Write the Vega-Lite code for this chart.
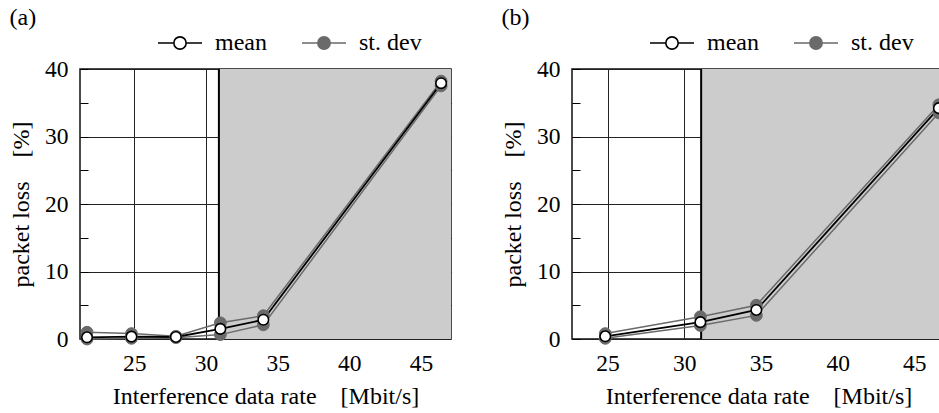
{
  "$schema": "https://vega.github.io/schema/vega-lite/v6.json",
  "padding": {"left": 8, "top": 5, "right": 0, "bottom": 0},
  "background": "white",
  "config": {
    "font": "Liberation Serif, Times New Roman, Times, serif",
    "view": {"stroke": "#111", "strokeWidth": 1.5},
    "axis": {"labelFont": "Liberation Serif, Times New Roman, Times, serif", "titleFont": "Liberation Serif, Times New Roman, Times, serif", "labelColor": "#000", "titleColor": "#000", "labelFontSize": 23.5, "titleFontSize": 24, "titleFontWeight": "normal"},
    "legend": {"labelFont": "Liberation Serif, Times New Roman, Times, serif"},
    "title": {"font": "Liberation Serif, Times New Roman, Times, serif", "fontSize": 24, "fontWeight": "normal", "color": "#000", "anchor": "start"}
  },
  "datasets": {
    "a": [
      {"x": 21.7, "y": 1.0, "line": "hi", "kind": "st. dev"},
      {"x": 24.8, "y": 0.8, "line": "hi", "kind": "st. dev"},
      {"x": 27.9, "y": 0.4, "line": "hi", "kind": "st. dev"},
      {"x": 31.0, "y": 2.4, "line": "hi", "kind": "st. dev"},
      {"x": 34.0, "y": 3.45, "line": "hi", "kind": "st. dev"},
      {"x": 46.4, "y": 38.2, "line": "hi", "kind": "st. dev"},
      {"x": 21.7, "y": 0.0, "line": "lo", "kind": "st. dev"},
      {"x": 24.8, "y": 0.1, "line": "lo", "kind": "st. dev"},
      {"x": 27.9, "y": 0.2, "line": "lo", "kind": "st. dev"},
      {"x": 31.0, "y": 0.65, "line": "lo", "kind": "st. dev"},
      {"x": 34.0, "y": 2.1, "line": "lo", "kind": "st. dev"},
      {"x": 46.4, "y": 37.5, "line": "lo", "kind": "st. dev"},
      {"x": 21.7, "y": 0.25, "line": "mean", "kind": "mean"},
      {"x": 24.8, "y": 0.35, "line": "mean", "kind": "mean"},
      {"x": 27.9, "y": 0.3, "line": "mean", "kind": "mean"},
      {"x": 31.0, "y": 1.5, "line": "mean", "kind": "mean"},
      {"x": 34.0, "y": 2.85, "line": "mean", "kind": "mean"},
      {"x": 46.4, "y": 37.9, "line": "mean", "kind": "mean"}
    ],
    "b": [
      {"x": 24.85, "y": 0.8, "line": "hi", "kind": "st. dev"},
      {"x": 31.05, "y": 3.3, "line": "hi", "kind": "st. dev"},
      {"x": 34.7, "y": 5.0, "line": "hi", "kind": "st. dev"},
      {"x": 46.6, "y": 34.7, "line": "hi", "kind": "st. dev"},
      {"x": 24.85, "y": 0.1, "line": "lo", "kind": "st. dev"},
      {"x": 31.05, "y": 2.0, "line": "lo", "kind": "st. dev"},
      {"x": 34.7, "y": 3.5, "line": "lo", "kind": "st. dev"},
      {"x": 46.6, "y": 33.5, "line": "lo", "kind": "st. dev"},
      {"x": 24.85, "y": 0.4, "line": "mean", "kind": "mean"},
      {"x": 31.05, "y": 2.5, "line": "mean", "kind": "mean"},
      {"x": 34.7, "y": 4.3, "line": "mean", "kind": "mean"},
      {"x": 46.6, "y": 34.2, "line": "mean", "kind": "mean"}
    ],
    "shadeA": [{"start": 30.9, "end": 47.09}],
    "shadeB": [{"start": 31.1, "end": 47.0}]
  },
  "spacing": 121,
  "bounds": "flush",
  "resolve": {"scale": {"fill": "independent", "stroke": "independent", "x": "independent", "y": "independent"}},
  "hconcat": [
    {
      "title": {"text": "(a)", "offset": -10},
      "width": 371,
      "height": 270,
      "resolve": {"axis": {"y": "independent"}},
      "layer": [
        {
          "data": {"name": "shadeA"},
          "mark": {"type": "rect", "color": "#cccccc"},
          "encoding": {
            "x": {"field": "start", "type": "quantitative", "scale": {"domain": [21.21, 47.09], "nice": false, "zero": false},
              "axis": {"values": [25, 30, 35, 40, 45], "grid": true, "gridColor": "#222", "gridWidth": 1, "ticks": false, "domain": false, "labelPadding": 12, "title": "Interference data rate\u00a0\u00a0\u00a0\u00a0[Mbit/s]", "titlePadding": 10}},
            "x2": {"field": "end"}
          }
        },
        {
          "data": {"name": "shadeA"},
          "mark": {"type": "rule", "color": "#000", "strokeWidth": 2},
          "encoding": {"x": {"field": "start", "type": "quantitative"}}
        },
        {
          "data": {"name": "a"},
          "transform": [{"filter": "datum.kind === 'st. dev'"}],
          "mark": {"type": "line", "strokeWidth": 1.5},
          "encoding": {
            "x": {"field": "x", "type": "quantitative"},
            "y": {"field": "y", "type": "quantitative", "scale": {"domain": [0, 40], "nice": false},
              "axis": {"values": [0, 5, 10, 15, 20, 25, 30, 35, 40], "labelExpr": "datum.value % 10 === 0 ? datum.label : ''", "grid": true, "gridColor": "#222", "gridWidth": 1, "gridOpacity": {"condition": {"test": "datum.value % 10 !== 0", "value": 0}, "value": 1}, "ticks": true, "tickSize": -8, "tickColor": "#000", "domain": false, "labelPadding": 20, "title": "packet loss\u00a0\u00a0\u00a0\u00a0[%]", "titlePadding": 11, "orient": "left"}},
            "detail": {"field": "line"},
            "stroke": {"field": "kind", "type": "nominal", "scale": {"domain": ["mean", "st. dev"], "range": ["#000", "#6a6a6a"]},
              "legend": {"orient": "none", "legendX": 77, "legendY": -49, "direction": "horizontal", "title": null, "symbolType": "M-1,0H-0.28M0.28,0H1M-0.28,0A0.28,0.28,0,1,1,0.28,0A0.28,0.28,0,1,1,-0.28,0Z", "symbolSize": 1936, "symbolStrokeWidth": 1.6, "labelFont": "Liberation Serif, Times New Roman, Times, serif", "labelFontSize": 24, "labelColor": "#000", "labelOffset": 12, "columnPadding": 31}}
          }
        },
        {
          "data": {"name": "a"},
          "transform": [{"filter": "datum.kind === 'mean'"}],
          "mark": {"type": "line", "strokeWidth": 1.8},
          "encoding": {
            "x": {"field": "x", "type": "quantitative"},
            "y": {"field": "y", "type": "quantitative", "axis": null},
            "stroke": {"field": "kind", "type": "nominal"}
          }
        },
        {
          "data": {"name": "a"},
          "transform": [{"filter": "datum.kind === 'st. dev'"}],
          "mark": {"type": "point", "filled": false, "shape": "circle", "size": 140, "strokeWidth": 1, "opacity": 1},
          "encoding": {
            "x": {"field": "x", "type": "quantitative"},
            "y": {"field": "y", "type": "quantitative",
              "axis": {"orient": "right", "values": [5, 15, 25, 35], "labels": false, "grid": false, "ticks": true, "tickSize": -8, "tickColor": "#000", "domain": false, "title": null}},
            "fill": {"field": "kind", "type": "nominal", "scale": {"domain": ["mean", "st. dev"], "range": ["#fff", "#6a6a6a"]}},
            "stroke": {"field": "kind", "type": "nominal"}
          }
        },
        {
          "data": {"name": "a"},
          "transform": [{"filter": "datum.kind === 'mean'"}],
          "mark": {"type": "point", "filled": false, "shape": "circle", "size": 110, "strokeWidth": 1.6, "opacity": 1},
          "encoding": {
            "x": {"field": "x", "type": "quantitative"},
            "y": {"field": "y", "type": "quantitative", "axis": null},
            "fill": {"field": "kind", "type": "nominal"},
            "stroke": {"field": "kind", "type": "nominal"}
          }
        }
      ]
    },
    {
      "title": {"text": "(b)", "offset": -10},
      "width": 373,
      "height": 270,
      "resolve": {"axis": {"y": "independent"}},
      "layer": [
        {
          "data": {"name": "shadeB"},
          "mark": {"type": "rect", "color": "#cccccc"},
          "encoding": {
            "x": {"field": "start", "type": "quantitative", "scale": {"domain": [22.68, 47.0], "nice": false, "zero": false},
              "axis": {"values": [25, 30, 35, 40, 45], "grid": true, "gridColor": "#222", "gridWidth": 1, "ticks": false, "domain": false, "labelPadding": 12, "title": "Interference data rate\u00a0\u00a0\u00a0\u00a0[Mbit/s]", "titlePadding": 10}},
            "x2": {"field": "end"}
          }
        },
        {
          "data": {"name": "shadeB"},
          "mark": {"type": "rule", "color": "#000", "strokeWidth": 2},
          "encoding": {"x": {"field": "start", "type": "quantitative"}}
        },
        {
          "data": {"name": "b"},
          "transform": [{"filter": "datum.kind === 'st. dev'"}],
          "mark": {"type": "line", "strokeWidth": 1.5},
          "encoding": {
            "x": {"field": "x", "type": "quantitative"},
            "y": {"field": "y", "type": "quantitative", "scale": {"domain": [0, 40], "nice": false},
              "axis": {"values": [0, 5, 10, 15, 20, 25, 30, 35, 40], "labelExpr": "datum.value % 10 === 0 ? datum.label : ''", "grid": true, "gridColor": "#222", "gridWidth": 1, "gridOpacity": {"condition": {"test": "datum.value % 10 !== 0", "value": 0}, "value": 1}, "ticks": true, "tickSize": -8, "tickColor": "#000", "domain": false, "labelPadding": 20, "title": "packet loss\u00a0\u00a0\u00a0\u00a0[%]", "titlePadding": 11, "orient": "left"}},
            "detail": {"field": "line"},
            "stroke": {"field": "kind", "type": "nominal", "scale": {"domain": ["mean", "st. dev"], "range": ["#000", "#6a6a6a"]},
              "legend": {"orient": "none", "legendX": 77, "legendY": -49, "direction": "horizontal", "title": null, "symbolType": "M-1,0H-0.28M0.28,0H1M-0.28,0A0.28,0.28,0,1,1,0.28,0A0.28,0.28,0,1,1,-0.28,0Z", "symbolSize": 1936, "symbolStrokeWidth": 1.6, "labelFont": "Liberation Serif, Times New Roman, Times, serif", "labelFontSize": 24, "labelColor": "#000", "labelOffset": 12, "columnPadding": 31}}
          }
        },
        {
          "data": {"name": "b"},
          "transform": [{"filter": "datum.kind === 'mean'"}],
          "mark": {"type": "line", "strokeWidth": 1.8},
          "encoding": {
            "x": {"field": "x", "type": "quantitative"},
            "y": {"field": "y", "type": "quantitative", "axis": null},
            "stroke": {"field": "kind", "type": "nominal"}
          }
        },
        {
          "data": {"name": "b"},
          "transform": [{"filter": "datum.kind === 'st. dev'"}],
          "mark": {"type": "point", "filled": false, "shape": "circle", "size": 140, "strokeWidth": 1, "opacity": 1},
          "encoding": {
            "x": {"field": "x", "type": "quantitative"},
            "y": {"field": "y", "type": "quantitative",
              "axis": {"orient": "right", "values": [5, 15, 25, 35], "labels": false, "grid": false, "ticks": true, "tickSize": -8, "tickColor": "#000", "domain": false, "title": null}},
            "fill": {"field": "kind", "type": "nominal", "scale": {"domain": ["mean", "st. dev"], "range": ["#fff", "#6a6a6a"]}},
            "stroke": {"field": "kind", "type": "nominal"}
          }
        },
        {
          "data": {"name": "b"},
          "transform": [{"filter": "datum.kind === 'mean'"}],
          "mark": {"type": "point", "filled": false, "shape": "circle", "size": 110, "strokeWidth": 1.6, "opacity": 1},
          "encoding": {
            "x": {"field": "x", "type": "quantitative"},
            "y": {"field": "y", "type": "quantitative", "axis": null},
            "fill": {"field": "kind", "type": "nominal"},
            "stroke": {"field": "kind", "type": "nominal"}
          }
        }
      ]
    }
  ]
}
